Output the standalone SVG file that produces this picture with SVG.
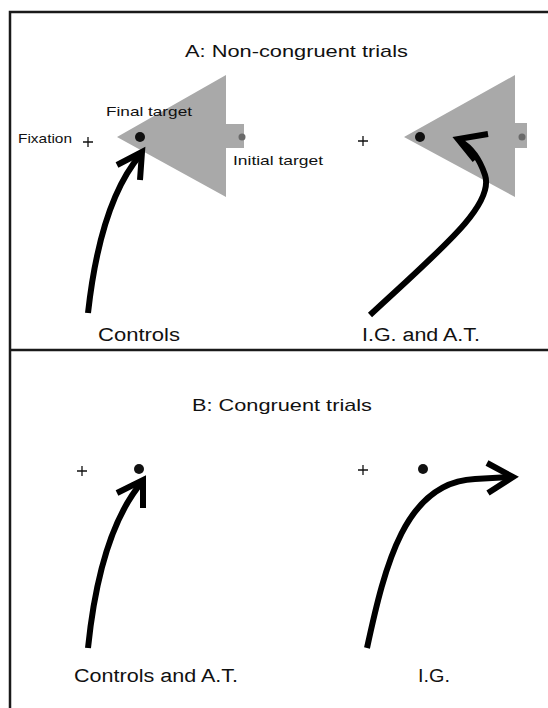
<svg xmlns="http://www.w3.org/2000/svg" width="548" height="708" viewBox="0 0 548 708">
<style>
.frame{fill:none;stroke:#1a1a1a;stroke-width:2.5}
.tri{fill:#a9a9a9}
.dot{fill:#111}
.gdot{fill:#6a6a6a}
.plus{stroke:#111;stroke-width:1.3}
.arr{fill:none;stroke:#000;stroke-width:6;stroke-linecap:butt;stroke-linejoin:miter}
text{font-family:"Liberation Sans",Arial,sans-serif;fill:#111}
.title{font-size:17px}
.lab{font-size:18px}
.small{font-size:13px}
</style>
<rect width="548" height="708" fill="#fff"/>
<g id="frame">
<path class="frame" d="M10,708 V12 H548"/>
<path class="frame" d="M10,350 H548"/>
</g>
<g id="panelA">
<text class="title" x="185" y="57" textLength="223" lengthAdjust="spacingAndGlyphs">A: Non-congruent trials</text>
<g id="A-left">
<polygon class="tri" points="117,137 226,75 226,124 244,124 244,148 226,148 226,197"/>
<circle class="dot" cx="140" cy="137" r="5"/>
<circle class="gdot" cx="242" cy="137" r="3.5"/>
<path class="plus" d="M83,142 H93 M88,137 V147"/>
<text class="small" x="18" y="143" textLength="54" lengthAdjust="spacingAndGlyphs">Fixation</text>
<text class="small" x="106" y="116" textLength="86" lengthAdjust="spacingAndGlyphs">Final target</text>
<text class="small" x="233" y="165" textLength="90" lengthAdjust="spacingAndGlyphs">Initial target</text>
<text class="lab" x="98" y="341" textLength="82" lengthAdjust="spacingAndGlyphs">Controls</text>
</g>
<g id="A-right">
<polygon class="tri" points="404,137 515,75 515,123 527,123 527,148 515,148 515,197"/>
<circle class="dot" cx="420" cy="137" r="5"/>
<circle class="gdot" cx="522" cy="137" r="3.5"/>
<path class="plus" d="M358,141 H368 M363,136 V146"/>
<text class="lab" x="362" y="341" textLength="118" lengthAdjust="spacingAndGlyphs">I.G. and A.T.</text>
</g>
</g>
<g id="panelB">
<text class="title" x="192" y="411" textLength="180" lengthAdjust="spacingAndGlyphs">B: Congruent trials</text>
<g id="B-left">
<path class="plus" d="M77,471 H87 M82,466 V476"/>
<circle class="dot" cx="139" cy="469" r="5"/>
<text class="lab" x="74" y="682" textLength="164" lengthAdjust="spacingAndGlyphs">Controls and A.T.</text>
</g>
<g id="B-right">
<path class="plus" d="M358,470 H368 M363,465 V475"/>
<circle class="dot" cx="423" cy="469" r="5"/>
<text class="lab" x="418" y="682" textLength="32" lengthAdjust="spacingAndGlyphs">I.G.</text>
</g>
</g>
<g id="connectors">
<path class="arr" d="M88,313 C95,250 110,190 141,154"/>
<path class="arr" d="M117,165 L142,152 L140,180"/>
<path class="arr" d="M370,315 C440,250 495,205 485,175 C480,160 472,148 460,141"/>
<path class="arr" d="M488,134 L458,139 L475,160"/>
<path class="arr" d="M88,648 C95,580 110,520 142,482"/>
<path class="arr" d="M117,493 L143,480 L143,508"/>
<path class="arr" d="M367,648 C385,565 405,482 475,479 L510,477"/>
<path class="arr" d="M487,463 L513,477 L488,493"/>
</g>
</svg>
